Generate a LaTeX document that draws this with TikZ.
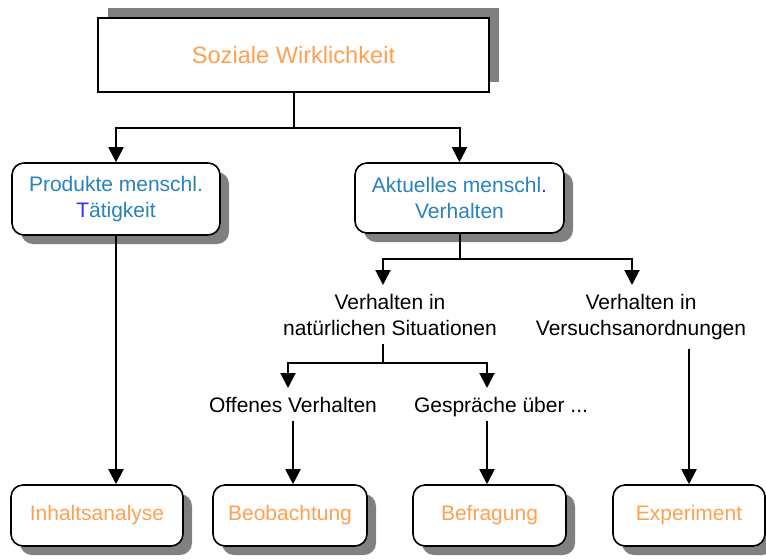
\documentclass[tikz,border=0pt]{standalone}
\usepackage{fontspec}
\setmainfont{Liberation Sans}
\usepackage{xcolor}
\usetikzlibrary{shadows,arrows.meta}

\definecolor{orangetxt}{RGB}{255,160,80}
\definecolor{bluetxt}{RGB}{40,130,190}
\definecolor{bluetee}{RGB}{50,50,255}

\begin{document}
\begin{tikzpicture}[x=0.5pt,y=-0.5pt,->,>={Triangle[width=7.5pt,length=7.5pt]},line width=1pt,
    font=\fontsize{10.5}{13}\selectfont]
  \tikzstyle{topbox}=[draw,line width=0.8pt,fill=white,minimum width=195.5pt,minimum height=37pt,
    text=orangetxt,font=\fontsize{11.8}{14}\selectfont,
    drop shadow={shadow xshift=5pt,shadow yshift=5pt,fill=black!50,opacity=1}]
  \tikzstyle{rbox}=[draw,line width=0.8pt,fill=white,rounded corners=6pt,minimum height=30.5pt,
    align=center,drop shadow={shadow xshift=4.5pt,shadow yshift=-4.5pt,fill=black!50,opacity=1}]
  \tikzstyle{txt}=[inner xsep=0pt,inner ysep=4pt,anchor=north,align=center]

  \useasboundingbox (0,0) rectangle (766,559);

  \node[topbox] (soz) at (293.5,55) {Soziale Wirklichkeit};
  \node[rbox,minimum width=104pt,minimum height=36pt,text=bluetxt] (prod) at (116,199)
    {Produkte menschl.\\\textcolor{bluetee}{T}ätigkeit};
  \node[rbox,minimum width=104.5pt,minimum height=35pt,text=bluetxt] (akt) at (459.5,198)
    {Aktuelles menschl\textcolor{bluetee}{.}\\Verhalten};

  \node[txt] (nat) at (390,285) {Verhalten in\\natürlichen Situationen};
  \node[txt] (vers) at (641,285) {Verhalten in\\Versuchsanordnungen};
  \node[txt] (off) at (293,388) {Offenes Verhalten};
  \node[txt,text depth=0pt] (gesp) at (501,388) {Gespräche über ...};

  \node[rbox,minimum width=86pt,text=orangetxt] (inh) at (97,515.5) {Inhaltsanalyse};
  \node[rbox,minimum width=77pt,text=orangetxt] (beob) at (290,515.5) {Beobachtung};
  \node[rbox,minimum width=76.5pt,text=orangetxt] (befr) at (489.5,515.5) {Befragung};
  \node[rbox,minimum width=76pt,text=orangetxt] (exp) at (689,515.5) {Experiment};

  % first level
  \draw (soz.south) -- ++(0,35) -| (prod.north);
  \draw (soz.south) -- ++(0,35) -| (akt.north);
  \draw (prod.south) -- (prod.south |- inh.north);

  % behaviour
  \draw (akt.south) -- ++(0,25) -| ([xshift=-3.5pt]nat.north);
  \draw (akt.south) -- ++(0,25) -| ([xshift=-4.5pt]vers.north);
  \draw ([xshift=-3.5pt]nat.south) -- ++(0,19) -| ([xshift=-2.5pt]off.north);
  \draw ([xshift=-3.5pt]nat.south) -- ++(0,19) -| ([xshift=-7pt]gesp.north);
  \draw (off.south) -- (off.south |- beob.north);
  \draw ([xshift=-7pt]gesp.south) -- ([xshift=-7pt]gesp.south |- befr.north);
  \draw ([xshift=24pt]vers.south) -- ([xshift=24pt]vers.south |- exp.north);
\end{tikzpicture}
\end{document}
